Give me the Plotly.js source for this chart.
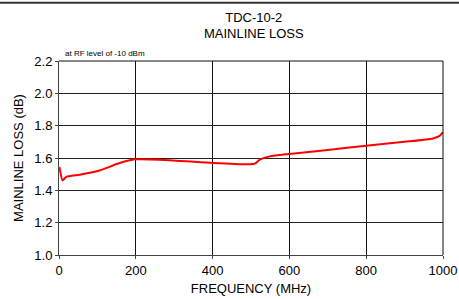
<!DOCTYPE html>
<html><head><meta charset="utf-8">
<script src="https://cdn.plot.ly/plotly-3.0.1.min.js"></script>
<style>html,body{margin:0;padding:0;background:#fff}</style>
</head><body><div id="chart" style="width:459px;height:299px"></div>
<script>
const freqMHz = [1, 3, 9, 19, 54, 106, 158, 197, 297, 401, 497, 510, 523, 549, 599, 700, 800, 900, 974, 990, 1000];
const lossDb  = [1.545, 1.52, 1.462, 1.483, 1.497, 1.523, 1.569, 1.592, 1.585, 1.569, 1.561, 1.565, 1.590, 1.610, 1.625, 1.650, 1.676, 1.700, 1.721, 1.735, 1.760];
const xTicks = [0, 200, 400, 600, 800, 1000];
const yTicks = [1.0, 1.2, 1.4, 1.6, 1.8, 2.0, 2.2];
const yTickText = yTicks.map(v => v.toFixed(1));

const font = {family: 'Liberation Sans, Arial, sans-serif', color: '#000'};
Plotly.newPlot('chart', [{
  x: freqMHz, y: lossDb, type: 'scatter', mode: 'lines',
  line: {color: '#ff0000', width: 2, shape: 'spline', smoothing: 0.6},
  hoverinfo: 'skip'
}], {
  width: 459, height: 299,
  margin: {l: 59, r: 16, t: 61, b: 44},
  paper_bgcolor: '#fff', plot_bgcolor: '#fff',
  showlegend: false,
  font: Object.assign({size: 13}, font),
  title: {text: 'TDC-10-2<br>MAINLINE LOSS', x: 0.553, xanchor: 'center', y: 0.928, yanchor: 'top',
          font: Object.assign({size: 13}, font)},
  xaxis: {range: [0, 1000], tickvals: xTicks, ticktext: xTicks.map(String),
          showgrid: true, gridcolor: '#111', gridwidth: 1,
          showline: true, linecolor: '#444', linewidth: 1, mirror: false,
          ticks: 'outside', ticklen: 3, tickcolor: '#444',
          zeroline: false, tickfont: Object.assign({size: 13}, font),
          title: {text: 'FREQUENCY (MHz)', standoff: 7, font: Object.assign({size: 13}, font)}},
  yaxis: {range: [1.0, 2.2], tickvals: yTicks, ticktext: yTickText,
          showgrid: true, gridcolor: '#222', gridwidth: 1,
          showline: true, linecolor: '#444', linewidth: 1,
          ticks: 'outside', ticklen: 3, tickcolor: '#444',
          zeroline: false, tickfont: Object.assign({size: 13}, font),
          title: {text: 'MAINLINE LOSS (dB)', standoff: 7, font: Object.assign({size: 13}, font)}},
  annotations: [{text: 'at RF level of -10 dBm', xref: 'paper', yref: 'paper', x: 0.01, y: 1.005,
                 xanchor: 'left', yanchor: 'bottom', showarrow: false, font: Object.assign({size: 8}, font)}],
  shapes: [
    {type: 'line', xref: 'paper', yref: 'paper', x0: -0.154, x1: 1.042, y0: 1.30, y1: 1.30,
     line: {color: '#333', width: 2}},
    {type: 'line', xref: 'paper', yref: 'paper', x0: 1, x1: 1, y0: 0, y1: 1,
     line: {color: '#111', width: 1}},
    {type: 'line', xref: 'paper', yref: 'paper', x0: 0, x1: 1, y0: 1, y1: 1,
     line: {color: '#111', width: 1}}
  ]
}, {displayModeBar: false, staticPlot: true});
</script></body></html>
